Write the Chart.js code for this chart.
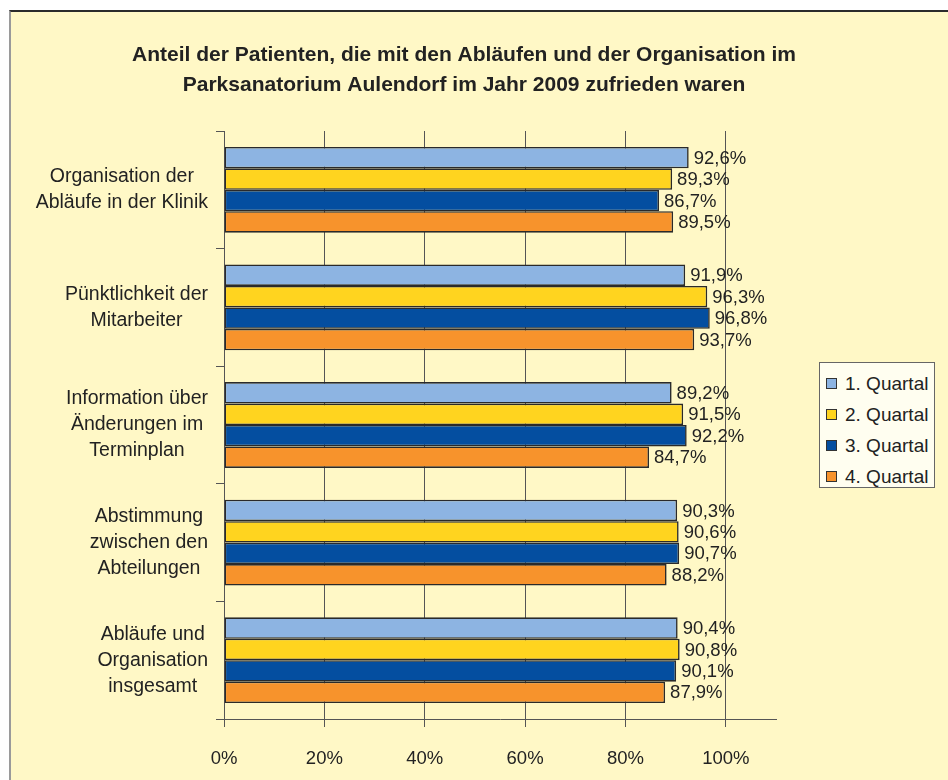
<!DOCTYPE html>
<html lang="de">
<head>
<meta charset="utf-8">
<title>Parksanatorium Aulendorf 2009</title>
<script src="https://cdn.jsdelivr.net/npm/chart.js@4.4.1/dist/chart.umd.min.js"></script>
<style>
  html, body { margin: 0; padding: 0; background: #fff; }
  body { width: 948px; height: 780px; position: relative; overflow: hidden; font-family: "Liberation Sans", Arial, sans-serif; }
  #frame { position: absolute; left: 9px; top: 10px; width: 960px; height: 800px; background: #FFF8C6;
           border-top: 2px solid #2b2b2b; border-left: 2px solid #9a9a9a; }
  #wrap { position: absolute; left: 0; top: 0; width: 948px; height: 780px; }
  #legend { position: absolute; left: 819px; top: 362px; width: 116px; height: 126px; box-sizing: border-box;
            border: 1px solid #666; background: #FFFEF0; padding-top: 5px; }
  #legend .item { height: 31px; display: flex; align-items: center; padding-left: 6px; font-size: 19px; color: #222; }
  #legend .sw { width: 9px; height: 9px; border: 1px solid #333; margin-right: 8px; }
</style>
</head>
<body>
<div id="frame"></div>
<div id="wrap"><canvas id="chart" width="948" height="780"></canvas></div>
<div id="legend"></div>
<script>
const titleLines = [
  'Anteil der Patienten, die mit den Abläufen und der Organisation im',
  'Parksanatorium Aulendorf im Jahr 2009 zufrieden waren'
];
const categories = [
  ['Organisation der', 'Abläufe in der Klinik'],
  ['Pünktlichkeit der', 'Mitarbeiter'],
  ['Information über', 'Änderungen im', 'Terminplan'],
  ['Abstimmung', 'zwischen den', 'Abteilungen'],
  ['Abläufe und', 'Organisation', 'insgesamt']
];
const seriesNames = ['1. Quartal', '2. Quartal', '3. Quartal', '4. Quartal'];
const quartal1 = [92.6, 91.9, 89.2, 90.3, 90.4];
const quartal2 = [89.3, 96.3, 91.5, 90.6, 90.8];
const quartal3 = [86.7, 96.8, 92.2, 90.7, 90.1];
const quartal4 = [89.5, 93.7, 84.7, 88.2, 87.9];
const xTicks = [0, 20, 40, 60, 80, 100];
const colors = ['#8DB4E2', '#FFD41F', '#044EA0', '#F7932C'];

const allSeries = [quartal1, quartal2, quartal3, quartal4];
const fontFamily = '"Liberation Sans", Arial, sans-serif';

// legend as html, built from the same arrays
const legendEl = document.getElementById('legend');
seriesNames.forEach((name, i) => {
  const row = document.createElement('div');
  row.className = 'item';
  row.innerHTML = '<span class="sw" style="background:' + colors[i] + '"></span>' + name;
  legendEl.appendChild(row);
});

function fmt(v) {
  return v.toFixed(1).replace('.', ',') + '%';
}

// category labels: block right aligned, lines centered inside the block
const categoryLabels = {
  id: 'categoryLabels',
  afterDraw(chart) {
    const ctx = chart.ctx;
    const yScale = chart.scales.y;
    const right = 208;
    const lh = 26;
    ctx.save();
    ctx.font = '19.5px ' + fontFamily;
    ctx.fillStyle = '#222';
    ctx.textAlign = 'center';
    ctx.textBaseline = 'middle';
    categories.forEach((lines, i) => {
      const y = yScale.getPixelForValue(i);
      const w = Math.max(...lines.map(l => ctx.measureText(l).width));
      const cx = right - w / 2;
      lines.forEach((line, j) => {
        ctx.fillText(line, cx, y + (j - (lines.length - 1) / 2) * lh);
      });
    });
    ctx.restore();
  }
};

// value labels right of each bar
const valueLabels = {
  id: 'valueLabels',
  afterDatasetsDraw(chart) {
    const ctx = chart.ctx;
    ctx.save();
    ctx.font = '18.5px ' + fontFamily;
    ctx.fillStyle = '#222';
    ctx.textAlign = 'left';
    ctx.textBaseline = 'middle';
    chart.data.datasets.forEach((ds, di) => {
      const meta = chart.getDatasetMeta(di);
      meta.data.forEach((bar, i) => {
        ctx.fillText(fmt(ds.data[i]), bar.x + 5, bar.y + 1);
      });
    });
    ctx.restore();
  }
};

const ctx = document.getElementById('chart').getContext('2d');
new Chart(ctx, {
  type: 'bar',
  data: {
    labels: categories,
    datasets: allSeries.map((data, i) => ({
      label: seriesNames[i],
      data: data,
      backgroundColor: colors[i],
      borderColor: '#2a2a2a',
      borderWidth: 1.6,
      borderSkipped: false,
      barPercentage: 1,
      categoryPercentage: 0.73
    }))
  },
  options: {
    indexAxis: 'y',
    responsive: false,
    animation: false,
    layout: { padding: { top: 40, left: 0, right: 20, bottom: 0 } },
    plugins: {
      legend: { display: false },
      tooltip: { enabled: false },
      title: {
        display: true,
        text: titleLines,
        color: '#222',
        font: { family: fontFamily, size: 21, weight: 'bold', lineHeight: '30px' },
        padding: { top: 0, bottom: 31 }
      }
    },
    scales: {
      x: {
        min: 0,
        max: 110,
        afterFit(scale) { scale.height = 61; },
        afterBuildTicks(scale) { scale.ticks = xTicks.map(v => ({ value: v })); },
        grid: { color: '#555', lineWidth: 1, tickLength: 8 },
        border: { color: '#555', width: 1 },
        ticks: {
          padding: 21,
          color: '#222',
          font: { family: fontFamily, size: 18.5 },
          callback: v => v + '%'
        }
      },
      y: {
        afterFit(scale) { scale.width = 224; },
        grid: { drawOnChartArea: false, offset: true, color: '#555', tickLength: 8 },
        border: { color: '#555', width: 1 },
        ticks: { display: false }
      },
      // empty right-hand axis that keeps room for the legend
      yRight: {
        type: 'linear',
        position: 'right',
        afterFit(scale) { scale.width = 152; },
        grid: { display: false },
        border: { display: false },
        ticks: { display: false }
      }
    }
  },
  plugins: [categoryLabels, valueLabels]
});
</script>
</body>
</html>
